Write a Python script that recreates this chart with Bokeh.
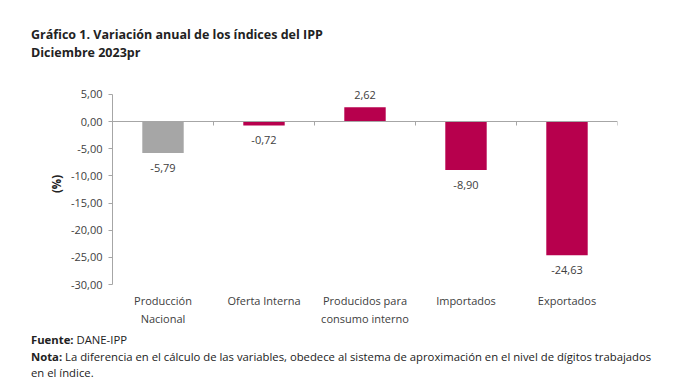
from bokeh.plotting import figure
from bokeh.models import (ColumnDataSource, Range1d, FixedTicker, LinearAxis, Div)
from bokeh.layouts import column
from bokeh.core.properties import value
from bokeh.embed import file_html
from bokeh.resources import INLINE

# ---- data ----
categories = ["Producción\nNacional", "Oferta Interna", "Producidos para\nconsumo interno",
              "Importados", "Exportados"]
values = [-5.79, -0.72, 2.62, -8.90, -24.63]
value_labels = ["-5,79", "-0,72", "2,62", "-8,90", "-24,63"]
bar_colors = ["#A6A6A6", "#B7004D", "#B7004D", "#B7004D", "#B7004D"]
y_ticks = [5, 0, -5, -10, -15, -20, -25, -30]
y_tick_labels = ["5,00", "0,00", "-5,00", "-10,00", "-15,00", "-20,00", "-25,00", "-30,00"]

title_1 = "Gráfico 1. Variación anual de los índices del IPP"
title_2 = "Diciembre 2023pr"
footer_src_b = "Fuente:"
footer_src = "DANE-IPP"
footer_note_b = "Nota:"
footer_note = "La diferencia en el cálculo de las variables, obedece al sistema de aproximación en el nivel de dígitos trabajados"
footer_note_2 = "en el índice."

FONT = "Open Sans"
TXT = "#404040"

n = len(categories)
centers = [i + 0.5 for i in range(n)]
src = ColumnDataSource(dict(
    x=centers, top=values, color=bar_colors, lab=value_labels,
    base=["top" if v < 0 else "bottom" for v in values],
    off=[11 if v < 0 else -8 for v in values],
))

W = 667
TOP_H = 64          # title block height
FIG_H = 268         # figure height
FOOT_H = 391 - TOP_H - FIG_H

div_title = Div(
    text=('<div style="position:absolute;left:31px;top:26px;white-space:nowrap;'
          f'font-family:\'{FONT}\';font-weight:bold;font-size:12.5px;line-height:18px;color:#222222;">'
          f'{title_1}<br>{title_2}</div>'),
    width=W, height=TOP_H, margin=0)

p = figure(width=W, height=FIG_H, output_backend="svg", toolbar_location=None,
           x_range=Range1d(0, n), y_range=Range1d(-30, 7),
           min_border_left=112, min_border_right=W - 617, min_border_top=83 - TOP_H,
           min_border_bottom=TOP_H + FIG_H - 284,
           outline_line_color=None, background_fill_color="white", border_fill_color="white",
           margin=0)
p.grid.visible = False

p.vbar(x="x", top="top", bottom=0, width=0.41, color="color", line_color=None, source=src)
p.text(x="x", y="top", text="lab", text_baseline="base", y_offset="off", text_align="center",
       text_font=value(FONT), text_font_size="11px", text_color=TXT, source=src)

# y axis
ya = p.yaxis[0]
ya.ticker = FixedTicker(ticks=y_ticks)
ya.bounds = (min(y_ticks), max(y_ticks))
ya.major_label_overrides = {t: l for t, l in zip(y_ticks, y_tick_labels)}
ya.minor_tick_line_color = None
ya.major_tick_in = 0
ya.major_tick_out = 4
ya.axis_line_color = "#A6A6A6"
ya.major_tick_line_color = "#A6A6A6"
ya.major_label_text_font = FONT
ya.major_label_text_font_size = "11px"
ya.major_label_text_color = TXT
ya.major_label_standoff = 6
ya.axis_label = "(%)"
ya.axis_label_text_font = FONT
ya.axis_label_text_font_style = "bold"
ya.axis_label_text_font_size = "11.5px"
ya.axis_label_text_color = "#222222"
ya.axis_label_standoff = 4

# category label axis (bottom)
xa = p.xaxis[0]
xa.ticker = FixedTicker(ticks=centers)
xa.major_label_overrides = {c: l for c, l in zip(centers, categories)}
xa.axis_line_color = None
xa.major_tick_line_color = None
xa.minor_tick_line_color = None
xa.major_label_text_font = FONT
xa.major_label_text_font_size = "11px"
xa.major_label_text_color = TXT
xa.major_label_standoff = 2

# zero line axis with boundary ticks (no labels)
bounds = list(range(n + 1))
za = LinearAxis(fixed_location=0, ticker=FixedTicker(ticks=bounds),
                major_label_overrides={b: "" for b in bounds},
                major_tick_in=0, major_tick_out=4,
                minor_tick_line_color=None, axis_line_color="#A6A6A6",
                major_tick_line_color="#A6A6A6")
p.add_layout(za, "below")

div_foot = Div(
    text=('<div style="position:absolute;left:31px;top:0px;white-space:nowrap;'
          f'font-family:\'{FONT}\';font-size:11.3px;line-height:16.5px;color:#222222;">'
          f'<b>{footer_src_b}</b> {footer_src}<br>'
          f'<b>{footer_note_b}</b> {footer_note}<br>'
          f'{footer_note_2}</div>'),
    width=W, height=FOOT_H, margin=0)

layout = column(div_title, p, div_foot, spacing=0, margin=0)
open("out.html", "w").write(file_html(layout, INLINE))
